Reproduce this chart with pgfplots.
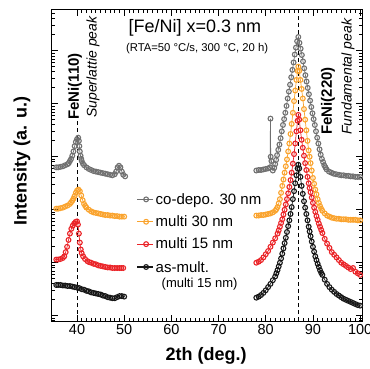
\documentclass[border=0pt]{standalone}
\usepackage{fontspec}
\setmainfont{Liberation Sans}
\usepackage{pgfplots}
\pgfplotsset{compat=1.18}
\definecolor{cgray}{RGB}{112,112,112}
\definecolor{corange}{RGB}{250,163,45}
\definecolor{cred}{RGB}{234,36,40}
\definecolor{cblack}{RGB}{22,22,22}
\begin{document}
\begin{tikzpicture}
\begin{axis}[
  at={(0pt,0pt)}, anchor=south west,
  width=310pt, height=311pt, scale only axis,
  xmin=34.7, xmax=100.4, ymin=-0.1, ymax=5.77,
  xtick={40,50,...,100}, minor x tick num=9,
  ytick={0,1,2,3,4,5}, yticklabels={},
  minor ytick={-0.097,-0.046,0.301,0.477,0.602,0.699,0.778,0.845,0.903,0.954,1.301,1.477,1.602,1.699,1.778,1.845,1.903,1.954,2.301,2.477,2.602,2.699,2.778,2.845,2.903,2.954,3.301,3.477,3.602,3.699,3.778,3.845,3.903,3.954,4.301,4.477,4.602,4.699,4.778,4.845,4.903,4.954,5.301,5.477,5.602,5.699},
  xtick pos=both, ytick pos=both,
  major tick length=6pt, minor tick length=3.5pt,
  axis line style={line width=1pt},
  every tick/.style={black, line width=0.8pt},
  /pgf/number format/assume math mode=true,
  ticklabel style={font=\fontsize{14.5}{16}\selectfont},
  xlabel={2th (deg.)},
  ylabel={Intensity (a. u.)},
  xlabel style={font=\bfseries\fontsize{18}{20}\selectfont, at={(axis description cs:0.497,-0.113)}, anchor=center},
  ylabel style={font=\bfseries\fontsize{18}{20}\selectfont, at={(axis description cs:-0.097,0.515)}, anchor=center, rotate=0},
  unbounded coords=jump,
  dat/.style={mark=o, mark size=2.4pt, line width=0.7pt, mark options={fill=white, line width=1.1pt, solid}},
  legend image code/.code={\draw[mark repeat=2,mark phase=2,#1,line width=1.2pt] plot coordinates {(0pt,0pt) (9pt,0pt) (16pt,0pt)};},
  legend cell align=left,
  legend style={font=\fontsize{15}{17}\selectfont, draw=none, fill=none, at={(0.272,0.418)}, anchor=north west, row sep=6pt, inner sep=0pt, nodes={inner xsep=2pt}},
]
\addplot[forget plot, mark=none, black, line width=1pt, dash pattern=on 4pt off 3pt] coordinates {(40,-0.1) (40,3.7)};
\addplot[forget plot, mark=none, black, line width=1pt, dash pattern=on 4pt off 3pt] coordinates {(86.9,-0.1) (86.9,5.77)};

\addplot[dat, cgray] coordinates {
(35.6,2.8)(36,2.8)(36.5,2.81)(37,2.82)(37.5,2.84)(38,2.86)(38.25,2.88)(38.5,2.92)(38.75,2.96)(39,3.02)(39.25,3.1)(39.5,3.2)(39.75,3.28)(40,3.33)(40.25,3.36)(40.4,3.3)(40.5,3.2)(40.6,3.1)(40.75,3.02)(40.9,2.96)(41,2.92)(41.25,2.87)(41.5,2.84)(42,2.8)(42.5,2.77)(43,2.75)(43.5,2.73)(44,2.72)(44.5,2.71)(45,2.7)(45.5,2.69)(46,2.68)(46.5,2.67)(47,2.66)(47.5,2.65)(48,2.67)(48.3,2.72)(48.6,2.8)(48.9,2.83)(49.2,2.8)(49.5,2.72)(49.8,2.66)(50.2,2.63)
(64,nan)
(78,2.74)(78.5,2.75)(79,2.75)(79.5,2.76)(80,2.77)(80.5,2.78)(80.9,2.80)(81.0,3.72)(81.05,3.0)(81.2,2.92)(81.5,2.74)(81.8,2.79)(82.0,2.86)(82.2,2.94)(82.4,3.03)(82.65,3.13)(82.9,3.23)(83.15,3.35)(83.4,3.48)(83.65,3.6)(83.9,3.71)(84.15,3.83)(84.4,3.96)(84.65,4.1)(84.9,4.23)(85.15,4.36)(85.4,4.5)(85.65,4.64)(85.9,4.78)(86.15,4.93)(86.4,5.06)(86.65,5.18)(86.9,5.26)(87.15,5.15)(87.4,5.04)(87.65,4.92)(87.9,4.8)(88.15,4.67)(88.4,4.54)(88.65,4.42)(88.9,4.3)(89.15,4.18)(89.4,4.06)(89.65,3.94)(89.9,3.82)(90.15,3.71)(90.4,3.6)(90.65,3.48)(90.9,3.36)(91.15,3.25)(91.4,3.14)(91.65,3.04)(91.9,2.96)(92.15,2.9)(92.4,2.84)(92.65,2.8)(92.9,2.76)(93.4,2.72)(93.9,2.7)(94.4,2.68)(94.9,2.67)(95.5,2.66)(96,2.65)(96.5,2.65)(97,2.64)(97.5,2.64)(98,2.63)(98.5,2.63)(99,2.62)(99.5,2.62)(100,2.62)
};
\addlegendentry{co-depo. 30 nm}

\addplot[dat, corange] coordinates {
(35.6,2.02)(36,2.02)(36.5,2.03)(37,2.04)(37.5,2.06)(38,2.08)(38.5,2.11)(38.75,2.14)(39,2.17)(39.25,2.21)(39.5,2.26)(39.75,2.32)(40,2.36)(40.3,2.38)(40.6,2.35)(40.9,2.27)(41.2,2.18)(41.5,2.11)(41.75,2.07)(42,2.04)(42.5,2.0)(43,1.97)(43.5,1.95)(44,1.94)(44.5,1.93)(45,1.92)(45.5,1.91)(46,1.9)(46.5,1.9)(47,1.89)(47.5,1.89)(48,1.88)(48.5,1.88)(49,1.87)(49.5,1.87)(50,1.87)
(64,nan)
(78,1.89)(78.5,1.89)(79,1.9)(79.5,1.9)(80,1.91)(80.5,1.92)(81,1.93)(81.5,1.95)(82,1.98)(82.25,2.01)(82.5,2.05)(82.75,2.12)(83,2.2)(83.25,2.32)(83.5,2.45)(83.75,2.57)(84,2.7)(84.25,2.82)(84.5,2.95)(84.75,3.1)(85,3.25)(85.25,3.43)(85.5,3.62)(85.75,3.83)(86,4.05)(86.25,4.25)(86.5,4.45)(86.75,4.62)(86.9,4.7)(87.1,4.62)(87.35,4.45)(87.6,4.28)(87.85,4.1)(88.1,3.9)(88.35,3.7)(88.6,3.5)(88.85,3.3)(89.1,3.12)(89.3,3.0)(89.5,2.88)(89.75,2.74)(90,2.6)(90.25,2.49)(90.5,2.38)(90.75,2.29)(91,2.2)(91.25,2.13)(91.5,2.07)(91.75,2.02)(92,1.98)(92.5,1.93)(93,1.89)(93.5,1.87)(94,1.85)(94.5,1.84)(95,1.83)(95.5,1.83)(96,1.82)(96.5,1.82)(97,1.82)(97.5,1.81)(98,1.81)(98.5,1.81)(99,1.81)(99.5,1.8)(100,1.8)
};
\addlegendentry{multi 30 nm}

\addplot[dat, cred] coordinates {
(35.6,1.06)(36,1.06)(36.5,1.07)(37,1.09)(37.3,1.12)(37.6,1.2)(37.9,1.3)(38.2,1.43)(38.5,1.55)(38.8,1.64)(39.1,1.7)(39.4,1.74)(39.7,1.77)(40,1.78)(40.2,1.72)(40.4,1.55)(40.6,1.38)(40.8,1.25)(41,1.18)(41.3,1.12)(41.7,1.07)(42.2,1.03)(42.6,1.01)(43,1.0)(43.5,0.98)(44,0.97)(44.5,0.95)(45,0.94)(45.5,0.93)(46,0.92)(46.5,0.91)(47,0.91)(47.5,0.9)(48,0.9)(48.5,0.9)(49,0.9)(49.4,0.9)(49.8,0.9)
(64,nan)
(78,1.0)(78.5,1.02)(79,1.05)(79.5,1.1)(80,1.16)(80.5,1.22)(81,1.3)(81.5,1.38)(82,1.46)(82.5,1.55)(82.75,1.61)(83,1.68)(83.25,1.75)(83.5,1.82)(83.75,1.91)(84,2.0)(84.25,2.1)(84.5,2.2)(84.75,2.31)(85,2.43)(85.25,2.56)(85.5,2.7)(85.75,2.87)(86,3.05)(86.25,3.25)(86.5,3.48)(86.75,3.68)(86.9,3.79)(87.1,3.7)(87.35,3.5)(87.6,3.32)(87.85,3.17)(88.1,3.02)(88.35,2.88)(88.6,2.75)(88.85,2.62)(89.1,2.5)(89.3,2.41)(89.5,2.33)(89.75,2.23)(90,2.13)(90.25,2.04)(90.5,1.96)(90.75,1.88)(91,1.81)(91.25,1.74)(91.5,1.68)(91.75,1.62)(92,1.56)(92.5,1.45)(93,1.36)(93.5,1.28)(94,1.2)(94.5,1.15)(95,1.1)(95.5,1.05)(96,1.0)(96.5,0.97)(97,0.94)(97.5,0.91)(98,0.88)(98.5,0.9)(99,0.83)(99.5,0.8)(100,0.77)
};
\addlegendentry{multi 15 nm}

\addplot[dat, cblack] coordinates {
(35.6,0.58)(36,0.58)(36.5,0.58)(37,0.57)(37.5,0.57)(38,0.56)(38.5,0.56)(39,0.55)(39.5,0.54)(40,0.53)(40.5,0.52)(41,0.5)(41.5,0.49)(42,0.47)(42.5,0.46)(43,0.44)(43.5,0.43)(44,0.42)(44.5,0.41)(45,0.4)(45.5,0.38)(46,0.37)(46.5,0.35)(47,0.34)(47.5,0.33)(48,0.33)(48.5,0.35)(49,0.37)(49.5,0.37)(50,0.36)
(64,nan)
(78,0.34)(78.5,0.36)(79,0.39)(79.5,0.43)(80,0.48)(80.5,0.54)(81,0.6)(81.5,0.67)(82,0.74)(82.25,0.8)(82.5,0.86)(82.75,0.93)(83,1.0)(83.25,1.08)(83.5,1.17)(83.75,1.27)(84,1.37)(84.25,1.47)(84.5,1.58)(84.75,1.69)(85,1.8)(85.25,1.92)(85.5,2.05)(85.75,2.2)(86,2.35)(86.25,2.5)(86.5,2.65)(86.75,2.78)(86.9,2.85)(87.1,2.78)(87.35,2.62)(87.6,2.45)(87.85,2.3)(88.1,2.16)(88.35,2.04)(88.6,1.92)(88.85,1.8)(89.1,1.68)(89.3,1.59)(89.5,1.5)(89.75,1.4)(90,1.3)(90.25,1.21)(90.5,1.12)(90.75,1.05)(91,0.98)(91.25,0.92)(91.5,0.86)(91.75,0.81)(92,0.77)(92.5,0.68)(93,0.6)(93.5,0.54)(94,0.49)(94.5,0.45)(95,0.41)(95.5,0.38)(96,0.35)(96.5,0.32)(97,0.3)(97.5,0.28)(98,0.26)(98.5,0.24)(99,0.22)(99.5,0.2)(100,0.19)
};
\addlegendentry{\begin{tabular}[t]{@{}l@{}}as-mult.\\[-2pt]\hspace{6pt}\fontsize{13}{14}\selectfont(multi 15 nm)\end{tabular}}

\node[font=\fontsize{18}{20}\selectfont] at (rel axis cs:0.461,0.942) {[Fe/Ni] x=0.3 nm};
\node[font=\fontsize{11.3}{13}\selectfont] at (rel axis cs:0.468,0.875) {(RTA=50 °C/s, 300 °C, 20 h)};
\node[rotate=90, anchor=west, inner sep=0pt, font=\bfseries\fontsize{15}{17}\selectfont] at (rel axis cs:0.074,0.646) {FeNi(110)};
\node[rotate=90, anchor=west, inner sep=0pt, font=\itshape\fontsize{14}{16}\selectfont] at (rel axis cs:0.132,0.653) {Superlattie peak};
\node[rotate=90, anchor=west, inner sep=0pt, font=\bfseries\fontsize{15}{17}\selectfont] at (rel axis cs:0.890,0.598) {FeNi(220)};
\node[rotate=90, anchor=west, inner sep=0pt, font=\itshape\fontsize{14}{16}\selectfont] at (rel axis cs:0.955,0.598) {Fundamental peak};
\end{axis}
\pgfresetboundingbox
\path[use as bounding box] (-52pt,-48pt) rectangle (317pt,321pt);
\end{tikzpicture}
\end{document}
